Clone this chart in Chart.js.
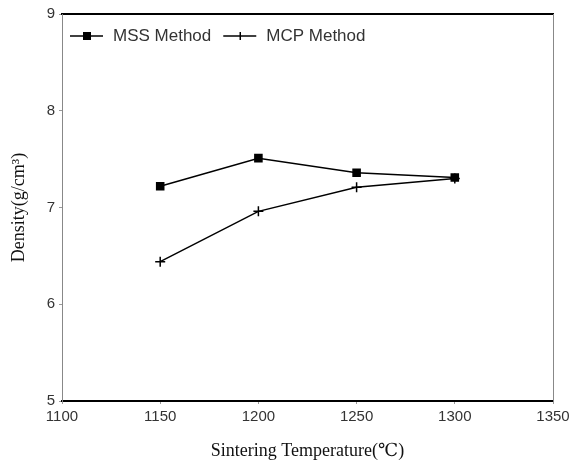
<!DOCTYPE html>
<html>
<head>
<meta charset="utf-8">
<script src="https://cdn.jsdelivr.net/npm/chart.js@4.4.1/dist/chart.umd.min.js"></script>
<style>
  html, body { margin: 0; padding: 0; background: #fff; }
  #wrap { width: 579px; height: 466px; }
</style>
</head>
<body>
<div id="wrap"><canvas id="densityChart"></canvas></div>
<script>
const temps = [1150, 1200, 1250, 1300];
const mssDensity = [7.22, 7.51, 7.36, 7.31];
const mcpDensity = [6.44, 6.96, 7.21, 7.30];
const seriesNames = ['MSS Method', 'MCP Method'];

const toPoints = vals => temps.map((t, i) => ({ x: t, y: vals[i] }));

// legend drawn inside the plot, line + marker like the scanned figure
const insideLegend = {
  id: 'insideLegend',
  afterDraw(chart) {
    const { ctx, chartArea } = chart;
    const y = chartArea.top + 22;
    ctx.save();
    ctx.font = '17px "Liberation Sans", Arial, sans-serif';
    ctx.textBaseline = 'middle';
    let x = chartArea.left + 8;
    chart.data.datasets.forEach(ds => {
      ctx.strokeStyle = '#000';
      ctx.lineWidth = 1.5;
      ctx.beginPath();
      ctx.moveTo(x, y);
      ctx.lineTo(x + 33, y);
      ctx.stroke();
      const cx = x + 17;
      if (ds.pointStyle === 'rect') {
        ctx.fillStyle = '#000';
        ctx.fillRect(cx - 4, y - 4, 8, 8);
      } else {
        ctx.beginPath();
        ctx.moveTo(cx, y - 4);
        ctx.lineTo(cx, y + 4);
        ctx.stroke();
      }
      ctx.fillStyle = '#333';
      ctx.fillText(ds.label, x + 43, y);
      x += 43 + ctx.measureText(ds.label).width + 12;
    });
    ctx.restore();
  }
};

new Chart(document.getElementById('densityChart'), {
  type: 'line',
  data: {
    datasets: [
      {
        label: seriesNames[0],
        data: toPoints(mssDensity),
        borderColor: '#000',
        backgroundColor: '#000',
        borderWidth: 1.5,
        pointStyle: 'rect',
        pointRadius: 5,
        tension: 0
      },
      {
        label: seriesNames[1],
        data: toPoints(mcpDensity),
        borderColor: '#000',
        backgroundColor: '#000',
        borderWidth: 1.5,
        pointStyle: 'cross',
        pointRadius: 5,
        pointBorderWidth: 1.5,
        tension: 0
      }
    ]
  },
  options: {
    responsive: true,
    maintainAspectRatio: false,
    animation: false,
    layout: { padding: { top: 14, right: 26, left: 4, bottom: 0 } },
    scales: {
      x: {
        type: 'linear',
        min: 1100,
        max: 1350,
        ticks: {
          stepSize: 50,
          color: '#333',
          font: { size: 15, family: '"Liberation Sans", Arial, sans-serif' },
          padding: 4,
          maxRotation: 0,
          callback: v => String(v)
        },
        grid: { display: true, drawOnChartArea: false, tickLength: 3, color: '#999' },
        border: { display: true, color: '#000', width: 2 },
        title: {
          display: true,
          text: 'Sintering Temperature(℃)',
          color: '#111',
          font: { size: 18, family: '"Liberation Serif", "DejaVu Serif", serif' },
          padding: { top: 6 }
        },
        afterFit: s => { s.height = 65; }
      },
      xTop: {
        type: 'linear',
        position: 'top',
        min: 1100,
        max: 1350,
        ticks: { display: false },
        grid: { display: false },
        border: { display: true, color: '#000', width: 2 },
        afterFit: s => { s.height = 0; }
      },
      y: {
        type: 'linear',
        min: 5,
        max: 9,
        ticks: {
          stepSize: 1,
          color: '#333',
          font: { size: 15, family: '"Liberation Sans", Arial, sans-serif' },
          padding: 4
        },
        grid: { display: true, drawOnChartArea: false, tickLength: 3, color: '#999' },
        border: { display: true, color: '#888', width: 1, dash: [3, 3] },
        title: {
          display: true,
          text: 'Density(g/cm³)',
          color: '#111',
          font: { size: 18, family: '"Liberation Serif", "DejaVu Serif", serif' },
          padding: { bottom: 4 }
        },
        afterFit: s => { s.width = 58; }
      },
      yRight: {
        type: 'linear',
        position: 'right',
        min: 5,
        max: 9,
        ticks: { display: false },
        grid: { display: false },
        border: { display: true, color: '#888', width: 1, dash: [3, 3] },
        afterFit: s => { s.width = 0; }
      }
    },
    plugins: {
      legend: { display: false },
      tooltip: { enabled: false }
    }
  },
  plugins: [insideLegend]
});
</script>
</body>
</html>
